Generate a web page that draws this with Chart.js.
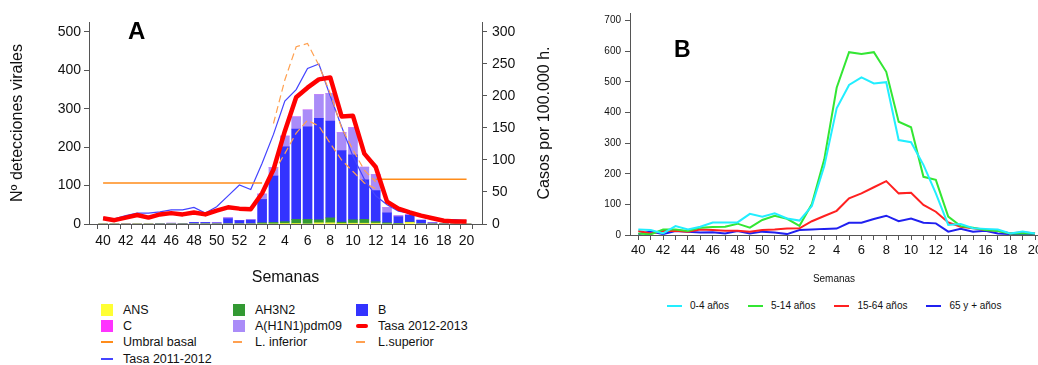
<!DOCTYPE html>
<html>
<head>
<meta charset="utf-8">
<script src="https://cdn.jsdelivr.net/npm/chart.js@4.4.1/dist/chart.umd.min.js"></script>
<style>
  body { margin: 0; background: #fff; width: 1038px; height: 365px; overflow: hidden; position: relative;
         font-family: 'Liberation Sans', Arial, sans-serif; color: #111; }
  #chartA { position: absolute; left: 0; top: 0; }
  #chartB { position: absolute; left: 600px; top: 0; }
  .tag { position: absolute; font-weight: bold; font-size: 24px; line-height: 24px; color: #000; }
  #legA { position: absolute; left: 101px; top: 302px; display: grid;
          grid-template-columns: 132px 123px 140px; grid-auto-rows: 16.2px; font-size: 12.5px; }
  #legA .it, #legB .it { display: flex; align-items: center; white-space: nowrap; }
  #legA .sw { width: 12px; height: 12px; margin-right: 10px; display: flex; align-items: center; justify-content: flex-start; }
  #legB { position: absolute; left: 667px; top: 300px; display: flex; gap: 19px; font-size: 10px; }
  #legB .sw { width: 15px; height: 2px; margin-right: 8px; }
</style>
</head>
<body>
<canvas id="chartA" width="560" height="300"></canvas>
<canvas id="chartB" width="438" height="300"></canvas>
<div class="tag" style="left:128px;top:19px">A</div>
<div class="tag" style="left:674px;top:37px;font-size:23px">B</div>
<div id="legA"></div>
<div id="legB"></div>
<script>
Chart.defaults.font.family = "'Liberation Sans', Arial, sans-serif";
Chart.defaults.color = '#111';

// semanas 40/2012 -> 20/2013
const weeks = [40, 41, 42, 43, 44, 45, 46, 47, 48, 49, 50, 51, 52, 1, 2, 3, 4, 5, 6, 7, 8, 9, 10, 11, 12, 13, 14, 15, 16, 17, 18, 19, 20];

// Panel A: detecciones virales (eje izquierdo)
const ans    = [0, 0, 0, 0, 0, 0, 0, 0, 0, 0, 0, 0, 0, 0, 0, 0, 1, 1, 0, 3, 3, 1, 2, 2, 2, 0, 0, 4, 0, 0, 0, 0, 0];
const cVir   = [0, 0, 1, 0, 0, 0, 0, 0, 0, 0, 0, 0, 0, 0, 0, 0, 0, 0, 0, 0, 0, 0, 0, 0, 0, 0, 0, 0, 0, 0, 0, 0, 0];
const ah3n2  = [0, 0, 0, 0, 0, 0, 0, 0, 0, 0, 0, 0, 0, 0, 3, 4, 5, 11, 12, 8, 13, 4, 9, 10, 4, 3, 1, 1, 0, 0, 0, 0, 0];
const bVir   = [0, 0, 0, 0, 0, 1, 2, 1, 4, 4, 3, 14, 9, 10, 61, 121, 195, 235, 241, 264, 252, 186, 169, 103, 81, 26, 18, 18, 10, 3, 1, 0, 0];
const h1n1   = [0, 0, 0, 0, 0, 0, 0, 0, 0, 0, 0, 3, 0, 2, 14, 22, 28, 32, 44, 62, 72, 47, 71, 33, 42, 14, 3, 1, 0, 0, 0, 0, 0];

// Panel A: tasas por 100.000 h. (eje derecho)
const rate1213 = [9, 6, 10, 14, 10, 15, 17, 15, 18, 15, 21, 26, 24, 23, 48, 85, 145, 198, 213, 226, 229, 168, 169, 110, 89, 35, 24, 18, 13, 9, 5, 4, 4];
const rate1112 = [10, 8, 13, 17, 17, 19, 22, 22, 26, 17, 27, 44, 61, 54, 95, 140, 192, 210, 243, 250, 200, 152, 106, 70, 44, 30, 20, 17, 13, 9, 7, 7, 5];
const umbral   = [64, 64, 64, 64, 64, 64, 64, 64, 64, 64, 64, 64, 64, 64, 64, null, null, null, null, null, null, null, null, null, 70, 70, 70, 70, 70, 70, 70, 70, 70];
const lInf     = [null, null, null, null, null, null, null, null, null, null, null, null, null, null, null, 80, 110, 142, 162, 153, 126, 100, 82, 64, 55, null, null, null, null, null, null, null, null];
const lSup     = [null, null, null, null, null, null, null, null, null, null, null, null, null, null, null, 157, 225, 277, 282, 248, 204, 150, 116, 84, 66, null, null, null, null, null, null, null, null];

// Panel B: tasas por grupo de edad
const age0_4   = [18, 16, 5, 29, 18, 27, 41, 41, 41, 69, 60, 71, 54, 47, 95, 225, 414, 490, 515, 495, 499, 310, 303, 229, 136, 33, 36, 22, 20, 18, 5, 11, 5];
const age5_14  = [5, 2, 18, 18, 13, 24, 26, 27, 37, 24, 49, 63, 53, 30, 101, 247, 481, 597, 591, 597, 533, 370, 352, 190, 180, 60, 29, 24, 16, 13, 5, 5, 5];
const age15_64 = [13, 5, 13, 14, 11, 18, 16, 14, 14, 11, 16, 18, 21, 22, 45, 62, 79, 120, 136, 156, 176, 136, 138, 98, 76, 41, 27, 22, 16, 14, 5, 9, 5];
const age65    = [3, 11, 3, 13, 11, 8, 9, 5, 13, 5, 11, 8, 3, 16, 18, 20, 21, 40, 40, 52, 63, 45, 54, 40, 38, 11, 20, 11, 14, 5, 3, 3, 3];

const asPoints = arr => arr.map((v, i) => ({ x: i, y: v }));
const weekTicks = scale => { scale.ticks = weeks.map((w, i) => ({ value: i })); };
const weekLabel = v => (v % 2 === 0 ? String(weeks[v]) : '');
const valueTicks = (max, step) => scale => {
  const t = [];
  for (let v = 0; v <= max; v += step) t.push({ value: v });
  scale.ticks = t;
};
const AXIS = '#555';

const rightTitle = {
  id: 'rightTitle',
  afterDraw(chart, args, opts) {
    if (!opts.text) return;
    const { ctx, chartArea } = chart;
    ctx.save();
    ctx.font = "16px 'Liberation Sans', Arial, sans-serif";
    ctx.fillStyle = '#111';
    ctx.textAlign = 'center';
    ctx.textBaseline = 'middle';
    ctx.translate(chart.width - 15, (chartArea.top + chartArea.bottom) / 2);
    ctx.rotate(-Math.PI / 2);
    ctx.fillText(opts.text, 0, 0);
    ctx.restore();
  }
};

const bar = (label, data, color) => ({
  label, data: asPoints(data), backgroundColor: color, yAxisID: 'y', stack: 'virus',
  barThickness: 9, order: 5
});
const line = (label, data, color, width, dash) => ({
  type: 'line', label, data: asPoints(data), yAxisID: 'y1', borderColor: color, backgroundColor: color,
  borderWidth: width, borderDash: dash || [], pointRadius: 0, tension: 0, order: 2
});

const datasetsA = [
  bar('ANS', ans, '#ffff33'),
  bar('AH3N2', ah3n2, '#339933'),
  bar('B', bVir, '#3333ff'),
  bar('A(H1N1)pdm09', h1n1, '#aa8cf8'),
  bar('C', cVir, '#ff33ff'),
  line('Umbral basal', umbral, '#ff8c1a', 1.5),
  line('L. inferior', lInf, '#ffa050', 1.2, [7, 4]),
  line('L.superior', lSup, '#ffa050', 1.2, [7, 4]),
  line('Tasa 2011-2012', rate1112, '#4444ff', 1.2),
  Object.assign(line('Tasa 2012-2013', rate1213, '#ff0000', 4.5), { order: 0, borderJoinStyle: 'round' })
];

const chartA = new Chart(document.getElementById('chartA'), {
  type: 'bar',
  data: { datasets: datasetsA },
  plugins: [rightTitle],
  options: {
    responsive: false,
    animation: false,
    layout: { padding: { top: 22, left: 0, right: 0, bottom: 0 } },
    plugins: { legend: { display: false }, tooltip: { enabled: false }, rightTitle: { text: 'Casos por 100.000 h.' } },
    scales: {
      x: {
        type: 'linear', min: -1.24, max: 33.36, stacked: true, offset: false,
        afterBuildTicks: weekTicks,
        afterFit: s => { s.height = 76; s.paddingLeft = 0; s.paddingRight = 0; },
        ticks: { autoSkip: false, maxRotation: 0, padding: 4, font: { size: 14 }, callback: weekLabel },
        grid: { drawOnChartArea: false, tickLength: 5, color: AXIS },
        border: { color: AXIS },
        title: { display: true, text: 'Semanas', font: { size: 16 }, padding: { top: 0, bottom: 13 } }
      },
      y: {
        position: 'left', min: 0, max: 526, stacked: true,
        afterBuildTicks: valueTicks(500, 100),
        afterFit: s => { s.width = 89; s.paddingTop = 0; s.paddingBottom = 0; },
        ticks: { padding: 3, font: { size: 14 } },
        grid: { drawOnChartArea: false, tickLength: 5, color: AXIS },
        border: { color: AXIS },
        title: { display: true, text: 'Nº detecciones virales', font: { size: 16 }, padding: { top: 8 } }
      },
      y1: {
        position: 'right', min: 0, max: 315.6,
        afterBuildTicks: valueTicks(300, 50),
        afterFit: s => { s.width = 78; s.paddingTop = 0; s.paddingBottom = 0; },
        ticks: { padding: 5, font: { size: 14 } },
        grid: { drawOnChartArea: false, tickLength: 5, color: AXIS },
        border: { color: AXIS }
      }
    }
  }
});

const ageLine = (label, data, color) => ({
  label, data: asPoints(data), borderColor: color, backgroundColor: color,
  borderWidth: 2, pointRadius: 0, tension: 0
});

const chartB = new Chart(document.getElementById('chartB'), {
  type: 'line',
  data: {
    datasets: [
      ageLine('0-4 años', age0_4, '#22eeff'),
      ageLine('5-14 años', age5_14, '#33e633'),
      ageLine('15-64 años', age15_64, '#ff2020'),
      ageLine('65 y + años', age65, '#2020f0')
    ]
  },
  options: {
    responsive: false,
    animation: false,
    layout: { padding: { top: 13, left: 0, right: 0, bottom: 0 } },
    plugins: { legend: { display: false }, tooltip: { enabled: false } },
    scales: {
      x: {
        type: 'linear', min: -0.67, max: 32.24, offset: false,
        afterBuildTicks: weekTicks,
        afterFit: s => { s.height = 65; s.paddingLeft = 0; s.paddingRight = 0; },
        ticks: { autoSkip: false, maxRotation: 0, padding: 3, font: { size: 13 }, callback: weekLabel },
        grid: { drawOnChartArea: false, tickLength: 5, color: AXIS },
        border: { color: AXIS },
        title: { display: true, text: 'Semanas', font: { size: 10 }, padding: { top: 0, bottom: 15 } }
      },
      y: {
        min: 0, max: 725,
        afterBuildTicks: valueTicks(700, 100),
        afterFit: s => { s.width = 30; s.paddingTop = 0; s.paddingBottom = 0; },
        ticks: { padding: 4, font: { size: 10 } },
        grid: { drawOnChartArea: false, tickLength: 5, color: AXIS },
        border: { color: AXIS }
      }
    }
  }
});

// leyenda A (3 columnas, por filas)
const orderA = ['ANS', 'AH3N2', 'B', 'C', 'A(H1N1)pdm09', 'Tasa 2012-2013', 'Umbral basal', 'L. inferior', 'L.superior', 'Tasa 2011-2012'];
const legA = document.getElementById('legA');
orderA.forEach(name => {
  const ds = chartA.data.datasets.find(d => d.label === name);
  const it = document.createElement('div');
  it.className = 'it';
  const sw = document.createElement('span');
  sw.className = 'sw';
  const mark = document.createElement('span');
  if (ds.type === 'line') {
    const w = ds.borderWidth;
    const len = w > 2 ? 15 : (ds.borderDash.length ? 9 : 13);
    mark.style.cssText = `display:block;width:${len}px;height:${w > 2 ? 4 : 2}px;background:${ds.borderColor};border-radius:${w > 2 ? 2 : 0}px`;
  } else {
    mark.style.cssText = `display:block;width:12px;height:12px;background:${ds.backgroundColor}`;
  }
  sw.appendChild(mark);
  it.appendChild(sw);
  it.appendChild(document.createTextNode(name));
  legA.appendChild(it);
});

// leyenda B
const legB = document.getElementById('legB');
chartB.data.datasets.forEach(ds => {
  const it = document.createElement('div');
  it.className = 'it';
  const sw = document.createElement('span');
  sw.className = 'sw';
  sw.style.background = ds.borderColor;
  it.appendChild(sw);
  it.appendChild(document.createTextNode(ds.label));
  legB.appendChild(it);
});
</script>
</body>
</html>
